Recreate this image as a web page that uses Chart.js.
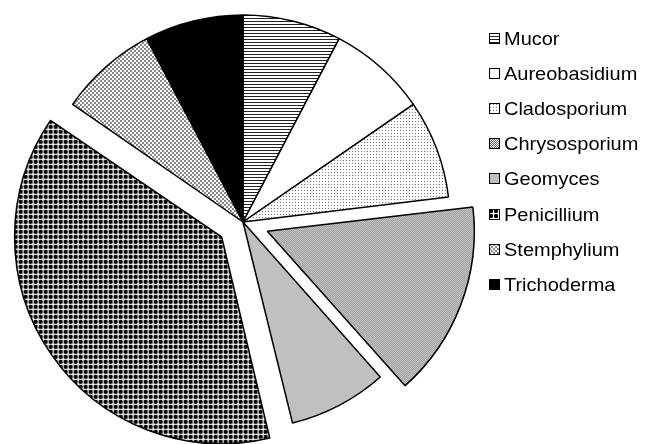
<!DOCTYPE html>
<html>
<head>
<meta charset="utf-8">
<script src="https://cdn.jsdelivr.net/npm/chart.js@4.4.0/dist/chart.umd.min.js"></script>
<style>
html, body { margin: 0; padding: 0; background: #fff; }
#wrap { position: relative; width: 651px; height: 444px; overflow: hidden; }
#chart { position: absolute; left: 0; top: 0; }
.item { position: absolute; left: 489px; width: 160px; height: 24px; font-family: "Liberation Sans", Arial, sans-serif; font-size: 18.5px; line-height: 18px; color: #000; white-space: nowrap; }
.item canvas { position: absolute; left: 0; }
.item span { position: absolute; left: 15px; transform: scaleX(1.08); transform-origin: 0 0; }
</style>
</head>
<body>
<div id="wrap">
  <canvas id="chart" width="651" height="444"></canvas>
  <div id="legend"></div>
</div>
<script>
// genera and number of isolates, clockwise from 12 o'clock
var genera = ["Mucor", "Aureobasidium", "Cladosporium", "Chrysosporium", "Geomyces", "Penicillium", "Stemphylium", "Trichoderma"];
var isolates = [1, 1, 1, 2, 1, 5, 1, 1];
var pulledOut = ["Chrysosporium", "Penicillium"];

var ctx = document.getElementById("chart").getContext("2d");

function tile(g, w, h, draw) {
  var c = document.createElement("canvas");
  c.width = w;
  c.height = h;
  var t = c.getContext("2d");
  t.fillStyle = "#fff";
  t.fillRect(0, 0, w, h);
  draw(t);
  return g.createPattern(c, "repeat");
}

// black & white fills, one per genus
function fills(g) {
  return [
    tile(g, 1, 3, function (t) { t.fillStyle = "#222"; t.fillRect(0, 0, 1, 1); }),
    "#fff",
    tile(g, 3, 3, function (t) { t.fillStyle = "#777"; t.fillRect(1, 1, 1, 1); }),
    tile(g, 2, 2, function (t) { t.fillStyle = "#666"; t.fillRect(0, 0, 1, 1); t.fillRect(1, 1, 1, 1); }),
    "#c0c0c0",
    tile(g, 5, 5, function (t) {
      t.fillStyle = "#000";
      t.fillRect(1, 0, 2, 4);
      t.fillRect(0, 1, 4, 2);
      t.fillStyle = "#555";
      t.fillRect(0, 0, 1, 1);
      t.fillRect(3, 0, 1, 1);
      t.fillRect(0, 3, 1, 1);
      t.fillRect(3, 3, 1, 1);
    }),
    tile(g, 4, 4, function (t) { t.fillStyle = "#888"; t.fillRect(0, 0, 2, 2); t.fillRect(2, 2, 2, 2); }),
    "#000"
  ];
}

// keep exploded wedges at the same radius as the rest
var trimExplode = {
  id: "trimExplode",
  afterDatasetsUpdate: function (chart) {
    chart.getDatasetMeta(0).data.forEach(function (arc) {
      var off = (arc.options.offset || 0) / 4;
      var fix = 1 - Math.sin(Math.min(Math.PI, arc.circumference));
      arc.outerRadius -= off * fix;
    });
  }
};

new Chart(ctx, {
  type: "pie",
  data: {
    labels: genera,
    datasets: [
      {
        data: isolates,
        backgroundColor: fills(ctx),
        borderColor: "#000",
        borderWidth: 1.5,
        offset: genera.map(function (g) { return pulledOut.indexOf(g) >= 0 ? 104 : 0; }),
        radius: 207,
      },
    ],
  },
  options: {
    responsive: false,
    animation: false,
    events: [],
    layout: { padding: { left: 0, right: 165, top: 0, bottom: 0 } },
    plugins: {
      legend: { display: false },
      tooltip: { enabled: false },
    },
  },
  plugins: [trimExplode],
});

// legend on the right
var legend = document.getElementById("legend");
genera.forEach(function (name, i) {
  var item = document.createElement("div");
  item.className = "item";
  item.style.top = (30 + i * 35.1) + "px";
  var box = document.createElement("canvas");
  box.width = 11;
  box.height = 11;
  box.style.top = "3px";
  var b = box.getContext("2d");
  b.fillStyle = fills(b)[i];
  b.fillRect(0, 0, 11, 11);
  b.strokeStyle = "#000";
  b.lineWidth = 1;
  b.strokeRect(0.5, 0.5, 10, 10);
  var label = document.createElement("span");
  label.textContent = name;
  item.appendChild(box);
  item.appendChild(label);
  legend.appendChild(item);
});
</script>
</body>
</html>
